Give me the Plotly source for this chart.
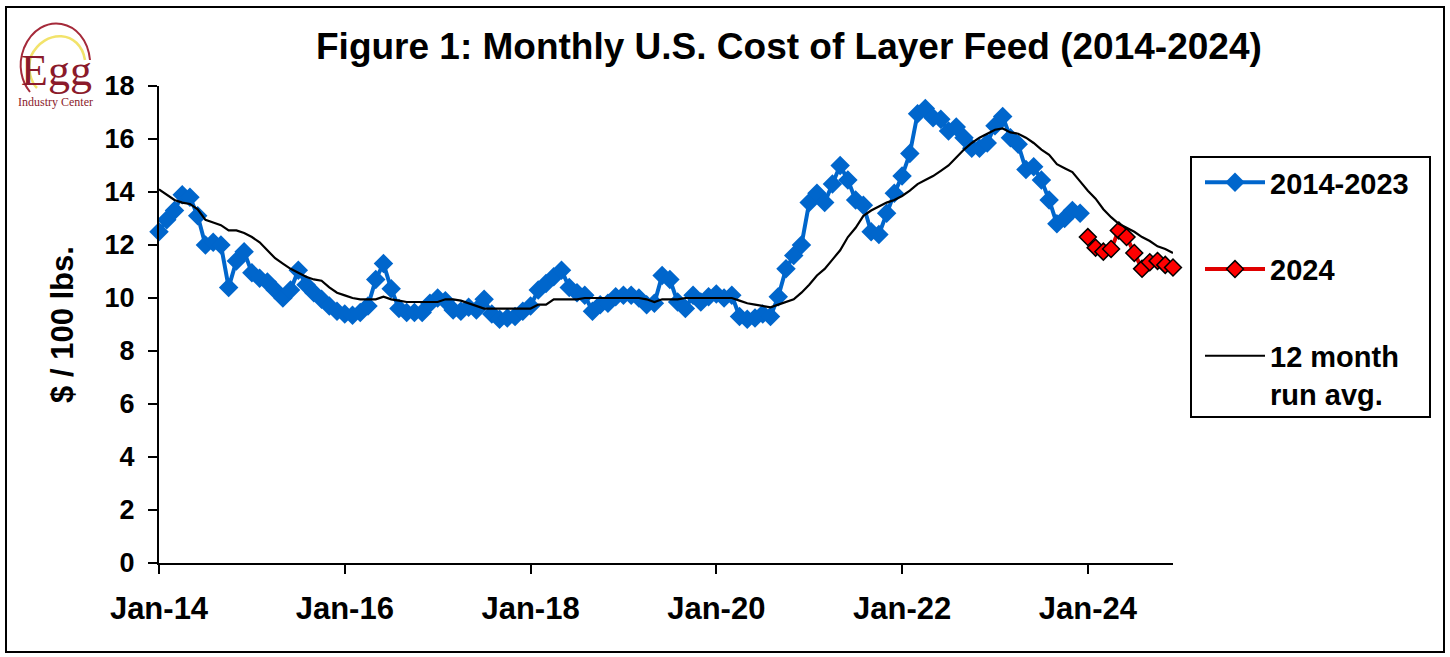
import plotly.graph_objects as go

# ---------------- data ----------------
month_names = ["Jan", "Feb", "Mar", "Apr", "May", "Jun", "Jul", "Aug", "Sep", "Oct", "Nov", "Dec"]
years = list(range(2014, 2025))
months = [f"{m}-{str(y)[2:]}" for y in years for m in month_names]  # Jan-14 ... Dec-24

feed_2014_2023 = [
    12.5, 12.95, 13.3, 13.9, 13.8, 13.1, 12.0, 12.1, 12.0, 10.4, 11.4, 11.75,   # 2014
    10.95, 10.75, 10.6, 10.3, 10.0, 10.3, 11.05, 10.5, 10.2, 9.95, 9.7, 9.5,     # 2015
    9.4, 9.35, 9.45, 9.7, 10.7, 11.3, 10.35, 9.6, 9.45, 9.45, 9.45, 9.8,          # 2016
    10.0, 9.9, 9.55, 9.5, 9.65, 9.55, 9.95, 9.4, 9.2, 9.25, 9.3, 9.5,             # 2017
    9.7, 10.3, 10.55, 10.8, 11.05, 10.4, 10.2, 10.1, 9.5, 9.75, 9.8, 10.05,       # 2018
    10.1, 10.1, 10.0, 9.75, 9.8, 10.85, 10.7, 9.85, 9.6, 10.1, 9.85, 10.05,       # 2019
    10.15, 10.0, 10.1, 9.3, 9.2, 9.25, 9.4, 9.3, 10.05, 11.1, 11.6, 12.0,         # 2020
    13.6, 13.95, 13.6, 14.3, 15.0, 14.45, 13.7, 13.5, 12.5, 12.4, 13.2, 13.95,    # 2021
    14.6, 15.45, 16.95, 17.15, 16.8, 16.75, 16.3, 16.45, 16.05, 15.65, 15.65, 15.85,  # 2022
    16.5, 16.85, 16.05, 15.8, 14.85, 14.95, 14.45, 13.7, 12.8, 13.0, 13.3, 13.2,  # 2023
]
feed_2024 = [12.3, 11.9, 11.75, 11.85, 12.55, 12.3, 11.7, 11.1, 11.35, 11.4, 11.25, 11.15]

run_avg_12m = [
    14.1, 13.9, 13.7, 13.6, 13.55, 13.35, 12.95, 12.85, 12.75, 12.55, 12.55, 12.45,
    12.3, 12.1, 11.8, 11.5, 11.3, 11.1, 10.95, 10.8, 10.7, 10.65, 10.4, 10.2,
    10.1, 10.0, 9.95, 9.95, 9.95, 10.05, 9.95, 9.9, 9.85, 9.85, 9.85, 9.85,
    9.85, 9.95, 9.95, 9.9, 9.8, 9.7, 9.6, 9.6, 9.6, 9.6, 9.6, 9.6,
    9.6, 9.75, 9.75, 9.95, 9.95, 9.95, 9.95, 10.0, 10.0, 10.0, 10.0, 10.0,
    10.0, 10.0, 10.0, 9.95, 9.85, 9.95, 9.95, 9.95, 10.0, 10.0, 10.0, 10.0,
    10.0, 10.0, 10.0, 9.9, 9.8, 9.75, 9.7, 9.65, 9.75, 9.85, 9.95, 10.2,
    10.5, 10.85, 11.1, 11.45, 11.8, 12.3, 12.65, 13.1, 13.3, 13.45, 13.6, 13.7,
    13.85, 14.05, 14.3, 14.45, 14.6, 14.8, 15.0, 15.3, 15.6, 15.85, 16.05, 16.2,
    16.35, 16.4, 16.25, 16.2, 16.05, 15.85, 15.6, 15.4, 15.05, 14.9, 14.75, 14.4,
    14.05, 13.75, 13.35, 13.05, 12.8, 12.65, 12.5, 12.3, 12.15, 11.95, 11.85, 11.7,
]

x_tick_labels = ["Jan-14", "Jan-16", "Jan-18", "Jan-20", "Jan-22", "Jan-24"]
y_tick_values = [0, 2, 4, 6, 8, 10, 12, 14, 16, 18]

# ---------------- layout helpers ----------------
W, H = 1450, 657
PL, PR, PT, PB = 159, 1173, 86, 563


def px(x):
    return (x - PL) / (PR - PL)


def py(y):
    return (PB - y) / (PB - PT)


FONT = "Liberation Sans, Arial, sans-serif"

fig = go.Figure()

fig.add_trace(go.Scatter(
    x=months[:len(feed_2014_2023)], y=feed_2014_2023, name="2014-2023",
    mode="lines+markers",
    line=dict(color="#0066CC", width=4),
    marker=dict(symbol="diamond", size=15, color="#0066CC"),
    cliponaxis=False, legendgroup="a",
))
fig.add_trace(go.Scatter(
    x=months[len(feed_2014_2023):], y=feed_2024, name="2024",
    mode="lines+markers",
    line=dict(color="#E00000", width=4),
    marker=dict(symbol="diamond", size=13, color="#FF0000", line=dict(color="#000000", width=1.5)),
    cliponaxis=False, legendgroup="b",
))
fig.add_trace(go.Scatter(
    x=months, y=run_avg_12m, name="12 month<br>run avg.",
    mode="lines",
    line=dict(color="#000000", width=2.2),
    cliponaxis=False, legendgroup="c",
))

shapes = [
    # outer frame
    dict(type="rect", xref="paper", yref="paper", x0=px(6), x1=px(1444), y0=py(7), y1=py(652),
         line=dict(color="#000000", width=2), fillcolor="rgba(0,0,0,0)", layer="below"),
    # legend frame
    dict(type="rect", xref="paper", yref="paper", x0=px(1191), x1=px(1430), y0=py(157), y1=py(417),
         line=dict(color="#000000", width=2), fillcolor="rgba(0,0,0,0)"),
]


def path_px(pts):
    # cubic bezier path in pixel coordinates converted to paper coordinates
    s = f"M {px(pts[0][0])},{py(pts[0][1])}"
    rest = pts[1:]
    for k in range(0, len(rest), 3):
        a, b, c = rest[k], rest[k + 1], rest[k + 2]
        s += f" C {px(a[0])},{py(a[1])} {px(b[0])},{py(b[1])} {px(c[0])},{py(c[1])}"
    return s


# logo arcs
shapes.append(dict(type="path", xref="paper", yref="paper",
                   path=path_px([(90, 60), (86, 18), (40, 10), (24, 48), (17, 66), (22, 82), (30, 92)]),
                   line=dict(color="#A52A3A", width=2)))
shapes.append(dict(type="path", xref="paper", yref="paper",
                   path=path_px([(85, 60), (80, 30), (45, 28), (31, 56), (27, 70), (31, 82), (37, 88)]),
                   line=dict(color="#F2E36B", width=2.5)))

annotations = [
    dict(text="<b>Figure 1: Monthly U.S. Cost of Layer Feed (2014-2024)</b>",
         xref="paper", yref="paper", x=px(789), y=py(46), xanchor="center", yanchor="middle",
         showarrow=False, font=dict(family=FONT, size=37, color="#000000")),
    dict(text="Egg", xref="paper", yref="paper", x=px(56), y=py(70), xanchor="center", yanchor="middle",
         showarrow=False, font=dict(family="Liberation Serif, DejaVu Serif, serif", size=44, color="#8B1A2B")),
    dict(text="Industry Center", xref="paper", yref="paper", x=px(55), y=py(102), xanchor="center",
         yanchor="middle", showarrow=False,
         font=dict(family="Liberation Serif, DejaVu Serif, serif", size=12, color="#8B1A2B")),
]

fig.update_layout(
    width=W, height=H,
    margin=dict(l=PL, r=W - PR, t=PT, b=H - PB, autoexpand=False),
    paper_bgcolor="#FFFFFF", plot_bgcolor="#FFFFFF",
    font=dict(family=FONT, size=28, color="#000000"),
    showlegend=True,
    legend=dict(x=px(1200), y=py(157), xanchor="left", yanchor="top",
                bgcolor="rgba(0,0,0,0)", borderwidth=0,
                font=dict(family=FONT, size=29, color="#000000", weight="bold"),
                tracegroupgap=46, itemwidth=60, valign="top"),
    shapes=shapes,
    annotations=annotations,
    xaxis=dict(
        type="category", range=[0, len(months) - 1],
        tickmode="array", tickvals=[months[i] for i in range(0, len(months), 24)], ticktext=x_tick_labels,
        showline=True, linecolor="#000000", linewidth=2, mirror=False,
        ticks="outside", ticklen=9, tickwidth=2, tickcolor="#000000",
        ticklabelstandoff=8,
        showgrid=False, zeroline=False,
        tickfont=dict(family=FONT, size=31, color="#000000", weight="bold"),
    ),
    yaxis=dict(
        range=[0, 18], tickmode="array", tickvals=y_tick_values,
        showline=True, linecolor="#000000", linewidth=2,
        ticks="outside", ticklen=9, tickwidth=2, tickcolor="#000000",
        ticklabelstandoff=8,
        showgrid=False, zeroline=False,
        tickfont=dict(family=FONT, size=27, color="#000000", weight="bold"),
        title=dict(text="<b>$ / 100 lbs.</b>", font=dict(family=FONT, size=31, color="#000000"), standoff=22),
    ),
)

fig.write_html("out.html", config={"displayModeBar": False},
               post_script="document.body.style.margin='0';document.body.style.padding='0';")
